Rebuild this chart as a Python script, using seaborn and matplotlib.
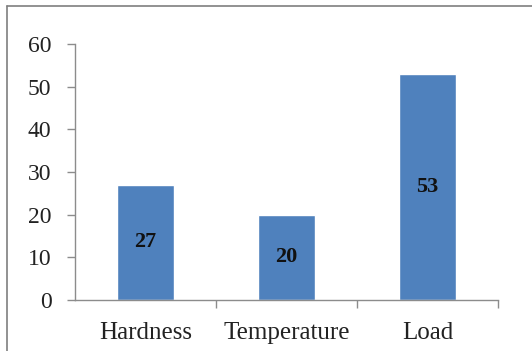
import matplotlib
matplotlib.use("Agg")
import matplotlib.pyplot as plt
import seaborn as sns
import pandas as pd
from matplotlib.lines import Line2D

categories = ["Hardness", "Temperature", "Load"]
values = [27, 20, 53]
y_ticks = [0, 10, 20, 30, 40, 50, 60]

sns.set_style("white")
plt.rcParams["font.family"] = ["Liberation Serif", "DejaVu Serif"]

df = pd.DataFrame({"factor": categories, "value": values})

fig = plt.figure(figsize=(5.32, 3.51), dpi=100)
ax = fig.add_axes([0.141, 0.145, 0.795, 0.73])

sns.barplot(data=df, x="factor", y="value", color="#4F81BD", saturation=1,
            width=0.4, ax=ax)

for i, v in enumerate(values):
    ax.text(i, v / 2, str(v), ha="center", va="center", fontsize=16,
            fontweight="bold", color="#111111")

ax.set_ylim(0, 60)
ax.set_xlim(-0.5, len(categories) - 0.5)
ax.set_yticks(y_ticks)
ax.set_xlabel("")
ax.set_ylabel("")

for side in ["top", "right"]:
    ax.spines[side].set_visible(False)
for side in ["left", "bottom"]:
    ax.spines[side].set_color("#8c8c8c")
    ax.spines[side].set_linewidth(1.0)

ax.tick_params(axis="y", which="both", left=True, length=6, width=1,
               color="#8c8c8c", labelsize=17, pad=11, labelcolor="#222222")
ax.set_xticks(range(len(categories)))
ax.set_xticklabels(categories)
ax.tick_params(axis="x", which="major", bottom=True, length=0, labelsize=18,
               pad=16, labelcolor="#222222")
# boundary ticks between categories
ax.set_xticks([0.5, 1.5, 2.5], minor=True)
ax.tick_params(axis="x", which="minor", bottom=True, length=6, width=1,
               color="#8c8c8c")

# outer chart frame
fig.add_artist(Line2D([7 / 532, 7 / 532], [0, 1 - 6 / 351],
                      transform=fig.transFigure, color="#7f7f7f", lw=1.2))
fig.add_artist(Line2D([7 / 532, 1], [1 - 6 / 351, 1 - 6 / 351],
                      transform=fig.transFigure, color="#7f7f7f", lw=1.2))

fig.savefig("out.png", dpi=100, facecolor="white")
